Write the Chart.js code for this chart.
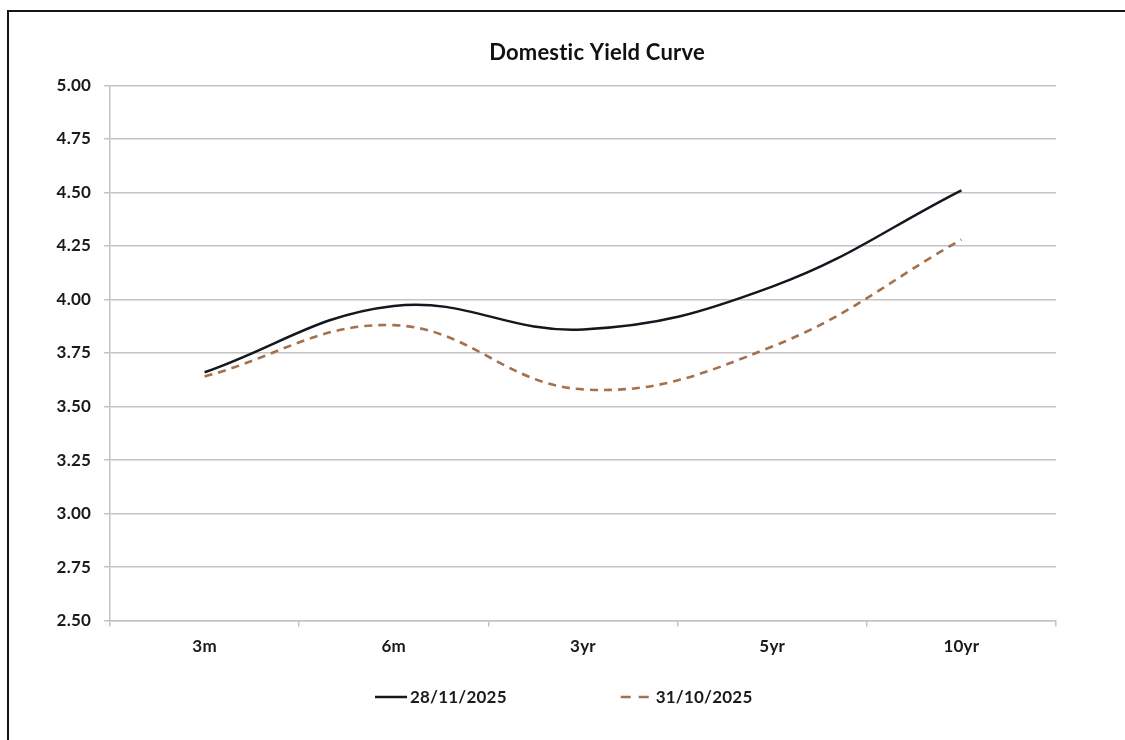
<!DOCTYPE html>
<html>
<head>
<meta charset="utf-8">
<title>Domestic Yield Curve</title>
<script src="https://cdn.jsdelivr.net/npm/chart.js@4/dist/chart.umd.min.js"></script>
<style>
  html, body { margin: 0; padding: 0; background: #ffffff; overflow: hidden; }
  #frame {
    position: absolute; left: 7px; top: 10px; width: 1118px; height: 730px;
    border-left: 2px solid #151515; border-top: 2px solid #151515; box-sizing: border-box;
  }
  #wrap { position: absolute; left: 0; top: 0; width: 1125px; height: 740px; }
</style>
</head>
<body>
<div id="frame"></div>
<div id="wrap"><canvas id="chart" width="1125" height="740"></canvas></div>
<script>
// Tenors on the horizontal axis
const categories = ['3m', '6m', '3yr', '5yr', '10yr'];

// Yields (%) per tenor for each curve date
const seriesLabels = ['28/11/2025', '31/10/2025'];
const yieldsNov = [3.66, 3.97, 3.86, 4.06, 4.51];
const yieldsOct = [3.64, 3.88, 3.58, 3.78, 4.28];

// Vertical axis ticks
const yTickValues = [2.50, 2.75, 3.00, 3.25, 3.50, 3.75, 4.00, 4.25, 4.50, 4.75, 5.00];

const FONT = 'Lato, "Open Sans", "DejaVu Sans", sans-serif';
const TEXT = '#1a1a1a';
const GRID = '#c4c4c4';

// Slight tracking keeps letter pairs from merging into ligatures
const textTracking = {
  id: 'textTracking',
  beforeDraw(chart) { chart.ctx.letterSpacing = '0.2px'; },
  afterDraw(chart) { chart.ctx.letterSpacing = '0px'; }
};

// Title sits centred over the span from the left margin to the right edge
const titleOffset = {
  id: 'titleOffset',
  afterLayout(chart, args, opts) {
    if (chart.titleBlock) chart.titleBlock.left += opts.shift;
  }
};

// Line-sample key drawn under the x axis
const seriesKey = {
  id: 'seriesKey',
  afterDraw(chart, args, opts) {
    const ctx = chart.ctx;
    ctx.save();
    ctx.letterSpacing = '0.2px';
    ctx.font = 'bold ' + opts.size + 'px ' + FONT;
    ctx.textBaseline = 'middle';
    ctx.textAlign = 'left';
    let x = opts.left;
    chart.data.datasets.forEach(ds => {
      ctx.strokeStyle = ds.borderColor;
      ctx.lineWidth = ds.borderWidth;
      ctx.setLineDash(ds.keyDash || []);
      ctx.beginPath();
      ctx.moveTo(x, opts.y);
      ctx.lineTo(x + opts.sample, opts.y);
      ctx.stroke();
      ctx.setLineDash([]);
      ctx.fillStyle = opts.color;
      ctx.fillText(ds.label, x + opts.sample + opts.gap, opts.y + 1);
      x += opts.sample + opts.gap + ctx.measureText(ds.label).width + opts.spacing;
    });
    ctx.restore();
  }
};

new Chart(document.getElementById('chart'), {
  type: 'line',
  data: {
    labels: categories,
    datasets: [
      {
        label: seriesLabels[0],
        data: yieldsNov,
        borderColor: '#14171f',
        borderWidth: 2.5,
        tension: 0.4,
        pointRadius: 0,
        fill: false
      },
      {
        label: seriesLabels[1],
        data: yieldsOct,
        borderColor: '#a5714d',
        borderWidth: 2.6,
        borderDash: [8, 6],
        keyDash: [10, 8],
        tension: 0.4,
        pointRadius: 0,
        fill: false
      }
    ]
  },
  options: {
    responsive: false,
    animation: false,
    devicePixelRatio: 1,
    layout: { padding: { left: 0, right: 0, top: 0, bottom: 73 } },
    plugins: {
      title: {
        display: true,
        text: 'Domestic Yield Curve',
        color: '#111111',
        font: { family: FONT, size: 22, weight: 'bold' },
        padding: { top: 40, bottom: 19 }
      },
      titleOffset: { shift: 69 },
      legend: { display: false },
      tooltip: { enabled: false },
      seriesKey: { left: 375, y: 697, sample: 32, gap: 3, spacing: 114, size: 17, color: TEXT }
    },
    scales: {
      x: {
        offset: true,
        grid: {
          display: true, drawOnChartArea: false, drawTicks: true,
          tickLength: 6, offset: true, color: GRID, lineWidth: 1.5
        },
        border: { display: true, color: GRID, width: 1.5 },
        ticks: { font: { family: FONT, size: 17, weight: 'bold' }, color: TEXT, padding: 10 }
      },
      y: {
        min: 2.5,
        max: 5,
        afterBuildTicks: axis => { axis.ticks = yTickValues.map(v => ({ value: v })); },
        afterFit: axis => { axis.width = 110; },
        grid: { color: GRID, lineWidth: 1.5, drawTicks: true, tickLength: 6 },
        border: { display: true, color: GRID, width: 1.5 },
        ticks: {
          font: { family: FONT, size: 17, weight: 'bold' },
          color: TEXT,
          padding: 13,
          callback: v => Number(v).toFixed(2)
        }
      },
      yPad: {
        position: 'right',
        display: true,
        grid: { display: false, drawTicks: false },
        border: { display: false },
        ticks: { display: false },
        afterFit: axis => { axis.width = 69; }
      }
    }
  },
  plugins: [textTracking, titleOffset, seriesKey]
});
</script>
</body>
</html>
